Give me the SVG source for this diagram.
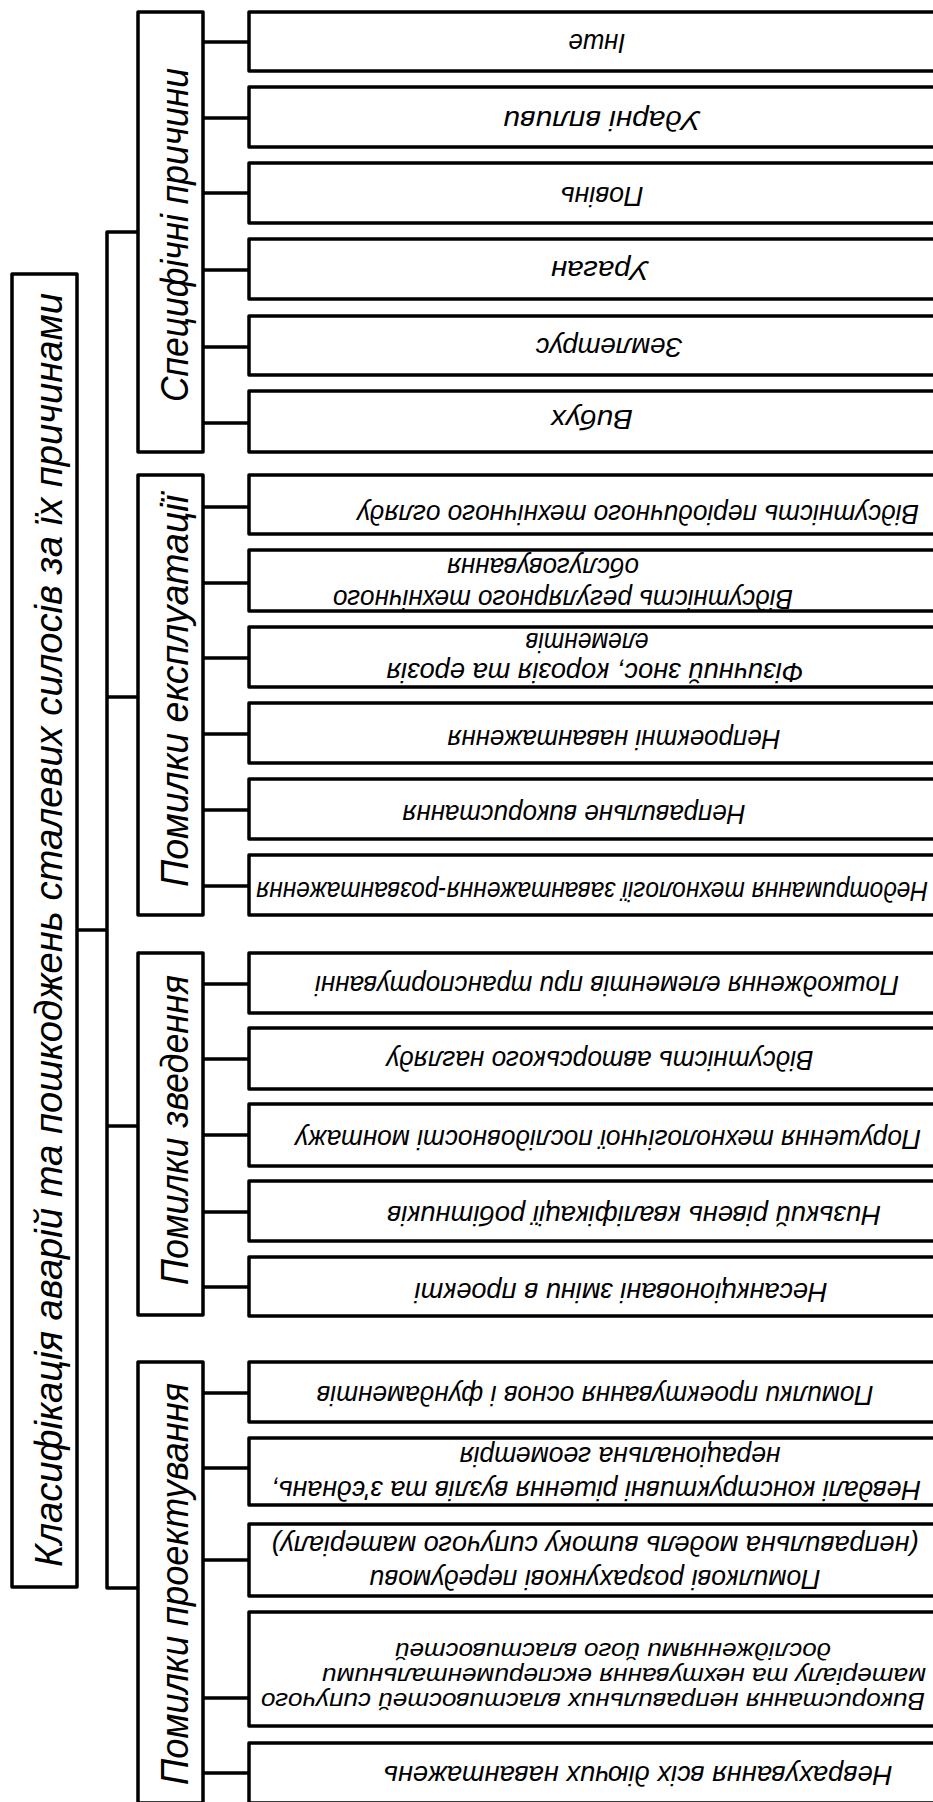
<svg xmlns="http://www.w3.org/2000/svg" width="933" height="1802" viewBox="0 0 933 1802">
<style>
.box{fill:#fff;stroke:#000;stroke-width:3.5;stroke-linejoin:round}
.ln{fill:none;stroke:#000;stroke-width:3.5;stroke-linejoin:round}
text{font-family:"Liberation Sans",Arial,sans-serif;font-style:italic;fill:#000;text-anchor:middle}
.big{font-size:38px}
.leaf{font-size:27px}
.small{font-size:24px}
</style>
<rect width="933" height="1802" fill="#fff"/>
<g id="connectors" class="ln">
<path d="M77,930 H107"/>
<path d="M138,232 H107 V1588 H138"/>
<path d="M107,697 H138 M107,1126 H138"/>
<path d="M203,42 H249 M203,118 H249 M203,193 H249 M203,270 H249 M203,347 H249 M203,423 H249"/>
<path d="M203,507 H249 M203,583 H249 M203,658 H249 M203,734 H249 M203,810 H249 M203,886 H249"/>
<path d="M203,984 H249 M203,1059 H249 M203,1135 H249 M203,1212 H249 M203,1287 H249"/>
<path d="M203,1393 H249 M203,1468 H249 M203,1560 H249 M203,1698 H249 M203,1773 H249"/>
</g>
<g id="root">
<rect class="box" x="12" y="274" width="65" height="1313"/>
<text class="big" transform="translate(62,930) rotate(-90)" textLength="1274" lengthAdjust="spacingAndGlyphs">Класифікація аварій та пошкоджень сталевих силосів за їх причинами</text>
</g>
<g id="cat-specific">
<rect class="box" x="138" y="12" width="65" height="440"/>
<text class="big" transform="translate(188,235) rotate(-90)" textLength="334" lengthAdjust="spacingAndGlyphs">Специфічні причини</text>
</g>
<g id="cat-operation">
<rect class="box" x="138" y="475" width="65" height="440"/>
<text class="big" transform="translate(188,691) rotate(-90)" textLength="392" lengthAdjust="spacingAndGlyphs">Помилки експлуатації</text>
</g>
<g id="cat-erection">
<rect class="box" x="138" y="953" width="65" height="362"/>
<text class="big" transform="translate(188,1130) rotate(-90)" textLength="310" lengthAdjust="spacingAndGlyphs">Помилки зведення</text>
</g>
<g id="cat-design">
<rect class="box" x="138" y="1362" width="65" height="441"/>
<text class="big" transform="translate(188,1584) rotate(-90)" textLength="402" lengthAdjust="spacingAndGlyphs">Помилки проектування</text>
</g>

<g id="s1"><rect class="box" x="249" y="12" width="711" height="59"/>
<text class="leaf" transform="translate(597,41) rotate(180)" y="7" textLength="57" lengthAdjust="spacingAndGlyphs">Інше</text></g>
<g id="s2"><rect class="box" x="249" y="87" width="711" height="60"/>
<text class="leaf" transform="translate(602,118) rotate(180)" y="7" textLength="197" lengthAdjust="spacingAndGlyphs">Ударні впливи</text></g>
<g id="s3"><rect class="box" x="249" y="163" width="711" height="60"/>
<text class="leaf" transform="translate(602,194) rotate(180)" y="7" textLength="83" lengthAdjust="spacingAndGlyphs">Повінь</text></g>
<g id="s4"><rect class="box" x="249" y="239" width="711" height="60"/>
<text class="leaf" transform="translate(600,268) rotate(180)" y="7" textLength="98" lengthAdjust="spacingAndGlyphs">Ураган</text></g>
<g id="s5"><rect class="box" x="249" y="316" width="711" height="59"/>
<text class="leaf" transform="translate(609,345) rotate(180)" y="7" textLength="147" lengthAdjust="spacingAndGlyphs">Землетрус</text></g>
<g id="s6"><rect class="box" x="249" y="391" width="711" height="61"/>
<text class="leaf" transform="translate(592,417) rotate(180)" y="7" textLength="82" lengthAdjust="spacingAndGlyphs">Вибух</text></g>

<g id="o1"><rect class="box" x="249" y="475" width="711" height="59"/>
<text class="leaf" transform="translate(638,512) rotate(180)" y="7" textLength="562" lengthAdjust="spacingAndGlyphs">Відсутність періодичного технічного огляду</text></g>
<g id="o2"><rect class="box" x="249" y="550" width="711" height="61"/>
<text class="leaf" transform="translate(563,597) rotate(180)" y="7" textLength="460" lengthAdjust="spacingAndGlyphs">Відсутність регулярного технічного</text>
<text class="leaf" transform="translate(543,565) rotate(180)" y="7" textLength="192" lengthAdjust="spacingAndGlyphs">обслуговування</text></g>
<g id="o3"><rect class="box" x="249" y="627" width="711" height="60"/>
<text class="leaf" transform="translate(595,670) rotate(180)" y="7" textLength="417" lengthAdjust="spacingAndGlyphs">Фізичний знос, корозія та ерозія</text>
<text class="leaf" transform="translate(587,640) rotate(180)" y="7" textLength="123" lengthAdjust="spacingAndGlyphs">елементів</text></g>
<g id="o4"><rect class="box" x="249" y="703" width="711" height="60"/>
<text class="leaf" transform="translate(614,737) rotate(180)" y="7" textLength="333" lengthAdjust="spacingAndGlyphs">Непроектні навантаження</text></g>
<g id="o5"><rect class="box" x="249" y="779" width="711" height="60"/>
<text class="leaf" transform="translate(574,812) rotate(180)" y="7" textLength="343" lengthAdjust="spacingAndGlyphs">Неправильне використання</text></g>
<g id="o6"><rect class="box" x="249" y="855" width="711" height="60"/>
<text class="leaf" transform="translate(592,889) rotate(180)" y="7" textLength="672" lengthAdjust="spacingAndGlyphs">Недотримання технології завантаження-розвантаження</text></g>

<g id="e1"><rect class="box" x="249" y="953" width="711" height="60"/>
<text class="leaf" transform="translate(607,983) rotate(180)" y="7" textLength="584" lengthAdjust="spacingAndGlyphs">Пошкодження елементів при транспортуванні</text></g>
<g id="e2"><rect class="box" x="249" y="1028" width="711" height="61"/>
<text class="leaf" transform="translate(600,1058) rotate(180)" y="7" textLength="427" lengthAdjust="spacingAndGlyphs">Відсутність авторського нагляду</text></g>
<g id="e3"><rect class="box" x="249" y="1104" width="711" height="62"/>
<text class="leaf" transform="translate(608,1137) rotate(180)" y="7" textLength="626" lengthAdjust="spacingAndGlyphs">Порушення технологічної послідовності монтажу</text></g>
<g id="e4"><rect class="box" x="249" y="1181" width="711" height="60"/>
<text class="leaf" transform="translate(634,1213) rotate(180)" y="7" textLength="494" lengthAdjust="spacingAndGlyphs">Низький рівень кваліфікації робітників</text></g>
<g id="e5"><rect class="box" x="249" y="1257" width="711" height="59"/>
<text class="leaf" transform="translate(621,1290) rotate(180)" y="7" textLength="413" lengthAdjust="spacingAndGlyphs">Несанкціоновані зміни в проекті</text></g>

<g id="d1"><rect class="box" x="249" y="1362" width="711" height="60"/>
<text class="leaf" transform="translate(595,1393) rotate(180)" y="7" textLength="557" lengthAdjust="spacingAndGlyphs">Помилки проектування основ і фундаментів</text></g>
<g id="d2"><rect class="box" x="249" y="1438" width="711" height="67"/>
<text class="leaf" transform="translate(596,1488) rotate(180)" y="7" textLength="650" lengthAdjust="spacingAndGlyphs">Невдалі конструктивні рішення вузлів та з'єднань,</text>
<text class="leaf" transform="translate(620,1454) rotate(180)" y="7" textLength="321" lengthAdjust="spacingAndGlyphs">нераціональна геометрія</text></g>
<g id="d3"><rect class="box" x="249" y="1524" width="711" height="72"/>
<text class="leaf" transform="translate(595,1577) rotate(180)" y="7" textLength="451" lengthAdjust="spacingAndGlyphs">Помилкові розрахункові передумови</text>
<text class="leaf" transform="translate(595,1543) rotate(180)" y="7" textLength="647" lengthAdjust="spacingAndGlyphs">(неправильна модель витоку сипучого матеріалу)</text></g>
<g id="d4"><rect class="box" x="249" y="1612" width="711" height="114"/>
<text class="small" transform="translate(593,1699) rotate(180)" y="6" textLength="664" lengthAdjust="spacingAndGlyphs">Використання неправильних властивостей сипучого</text>
<text class="small" transform="translate(624,1674) rotate(180)" y="6" textLength="604" lengthAdjust="spacingAndGlyphs">матеріалу та нехтування експериментальними</text>
<text class="small" transform="translate(613,1649) rotate(180)" y="6" textLength="436" lengthAdjust="spacingAndGlyphs">дослідженнями його властивостей</text></g>
<g id="d5"><rect class="box" x="249" y="1743" width="711" height="60"/>
<text class="leaf" transform="translate(638,1773) rotate(180)" y="7" textLength="509" lengthAdjust="spacingAndGlyphs">Неврахування всіх діючих навантажень</text></g>
</svg>
